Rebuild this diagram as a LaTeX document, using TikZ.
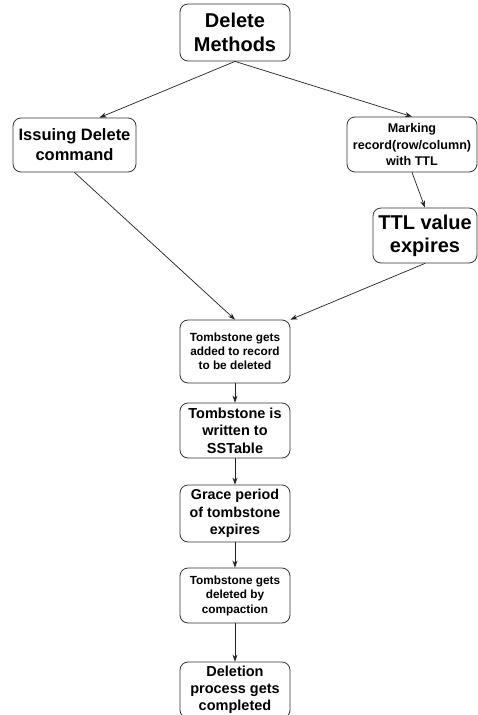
\documentclass[tikz,border=0pt]{standalone}
\usepackage{fontspec}
\setmainfont{Liberation Sans}
\usetikzlibrary{arrows.meta}
\definecolor{boxline}{HTML}{333333}
\definecolor{arrowline}{HTML}{222222}

\begin{document}
\begin{tikzpicture}[
  x=1pt,y=-1pt,line cap=round,line join=round,
  font=\bfseries,
  stepbox/.style={draw=boxline,line width=0.8pt,rounded corners=8pt,
    align=center,inner sep=0pt,minimum width=110pt,minimum height=55pt},
  flow/.style={arrowline,line width=0.7pt,-{Stealth[length=7pt,width=5pt]}}
]
  \useasboundingbox[fill=white] (0,0) rectangle (478,715);

  % Top of the tree and the two ways of deleting.
  \node[stepbox,minimum height=57pt,font=\bfseries\fontsize{20}{24}\selectfont]
    (methods) at (235,32.5) {Delete\\Methods};
  \node[stepbox,minimum width=123pt,minimum height=54pt,
    font=\bfseries\fontsize{16.5}{20}\selectfont]
    (issuing) at (74.5,145) {Issuing Delete\\command};
  \node[stepbox,minimum width=130pt,font=\bfseries\fontsize{12.6}{16.5}\selectfont]
    (marking) at (412,144.5) {Marking\\record(row/column)\\with TTL};
  \node[stepbox,minimum width=104pt,font=\bfseries\fontsize{20}{23}\selectfont]
    (ttl) at (425,235.5) {TTL value\\expires};

  % Main column.
  \node[stepbox,minimum height=63pt,font=\bfseries\fontsize{11.8}{14}\selectfont]
    (added) at (235,351.5) {Tombstone gets\\added to record\\to be deleted};
  \node[stepbox,font=\bfseries\fontsize{14.5}{17.5}\selectfont]
    (written) at (235,430.5) {Tombstone is\\written to\\SSTable};
  \node[stepbox,minimum height=57pt,font=\bfseries\fontsize{14.3}{17.5}\selectfont]
    (grace) at (235,513.5) {Grace period\\of tombstone\\expires};
  \node[stepbox,font=\bfseries\fontsize{11.8}{14.5}\selectfont]
    (compact) at (235,595.5) {Tombstone gets\\deleted by\\compaction};
  \node[stepbox,minimum height=56pt,font=\bfseries\fontsize{14.5}{17}\selectfont]
    (done) at (235,690) {Deletion\\process gets\\completed};

  % Connectors.
  \draw[flow] (methods.south) -- ([xshift=25pt]issuing.north);
  \draw[flow] (methods.south) -- (marking.north);
  \draw[flow] (marking.south) -- (ttl.north);
  \draw[flow] (issuing.south) -- (added.north);
  \draw[flow] (ttl.south) -- (added.north east);
  \draw[flow] (added) -- (written);
  \draw[flow] (written) -- (grace);
  \draw[flow] (grace) -- (compact);
  \draw[flow] (compact) -- (done);
\end{tikzpicture}
\end{document}
